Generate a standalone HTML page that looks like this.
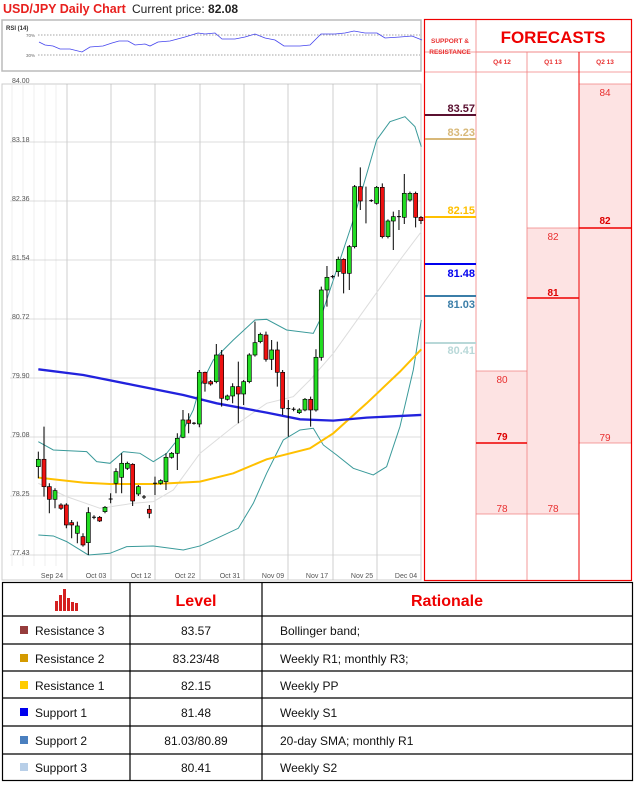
<!DOCTYPE html><html><head><meta charset="utf-8"><style>
body{margin:0;width:644px;height:789px;background:#fff;overflow:hidden;font-family:"Liberation Sans",sans-serif;position:relative}
</style></head><body>
<svg width="644" height="789" style="position:absolute;left:0;top:0" font-family="Liberation Sans, sans-serif">
<text x="3" y="13" font-size="12.5" font-weight="bold" fill="#e8201e">USD/JPY Daily Chart</text>
<text x="132" y="13" font-size="12" fill="#222">Current price: <tspan font-weight="bold">82.08</tspan></text>
<!-- RSI -->
<rect x="2" y="20" width="419" height="51" fill="#fff" stroke="#bbb" stroke-width="1.5"/>
<text x="6" y="30" font-size="6" font-weight="bold" fill="#333">RSI (14)</text>
<line x1="38" y1="35" x2="420" y2="35" stroke="#888" stroke-dasharray="1.5,1.5" stroke-width="0.7"/>
<line x1="38" y1="55" x2="420" y2="55" stroke="#888" stroke-dasharray="1.5,1.5" stroke-width="0.7"/>
<text x="26" y="37" font-size="4.5" fill="#666">70%</text><text x="26" y="57" font-size="4.5" fill="#666">30%</text>
<polyline fill="none" stroke="#4444ee" stroke-width="0.8" points="39,42 45,45 53,46 60,49 70,49 82,52 90,47 103,46 112,43 119,41 128,41 135,45 145,44 150,46 158,42 170,41 185,37 198,33 205,34 215,33 222,39 235,39 245,37 255,34 265,38 275,40 284,46 300,46 310,45 321,34 335,34 345,33 354,31 365,33 377,33 385,38 400,37 412,36 422,40"/>
<!-- main chart -->
<rect x="2" y="84" width="419" height="496" fill="#fff" stroke="#ccc"/>
<g stroke="#e4e4e4" stroke-width="0.6">
<line x1="12" y1="84" x2="12" y2="566"/><line x1="23" y1="84" x2="23" y2="566"/><line x1="34" y1="84" x2="34" y2="566"/><line x1="45" y1="84" x2="45" y2="566"/><line x1="56" y1="84" x2="56" y2="566"/>
</g>
<g stroke="#bbb" stroke-width="0.7">
<line x1="67" y1="84" x2="67" y2="580"/><line x1="111" y1="84" x2="111" y2="580"/><line x1="155" y1="84" x2="155" y2="580"/><line x1="200" y1="84" x2="200" y2="580"/><line x1="244" y1="84" x2="244" y2="580"/><line x1="288" y1="84" x2="288" y2="580"/><line x1="333" y1="84" x2="333" y2="580"/><line x1="377" y1="84" x2="377" y2="580"/>
</g>
<g stroke="#d0d0d0" stroke-width="0.7">
<line x1="10" y1="142" x2="421" y2="142"/><line x1="10" y1="201" x2="421" y2="201"/><line x1="10" y1="260" x2="421" y2="260"/><line x1="10" y1="319" x2="421" y2="319"/><line x1="10" y1="378" x2="421" y2="378"/><line x1="10" y1="437" x2="421" y2="437"/><line x1="10" y1="496" x2="421" y2="496"/><line x1="10" y1="555" x2="421" y2="555"/>
</g>
<g font-size="7" fill="#555">
<text x="12" y="83">84.00</text><text x="12" y="142">83.18</text><text x="12" y="201">82.36</text><text x="12" y="260">81.54</text><text x="12" y="319">80.72</text><text x="12" y="378">79.90</text><text x="12" y="437">79.08</text><text x="12" y="496">78.25</text><text x="12" y="555">77.43</text>
</g>
<g font-size="7" fill="#555" text-anchor="middle">
<text x="52" y="578">Sep 24</text><text x="96" y="578">Oct 03</text><text x="141" y="578">Oct 12</text><text x="185" y="578">Oct 22</text><text x="230" y="578">Oct 31</text><text x="273" y="578">Nov 09</text><text x="317" y="578">Nov 17</text><text x="362" y="578">Nov 25</text><text x="406" y="578">Dec 04</text>
</g>
<g transform="translate(0,120) scale(0.3333)" fill="none">
<polyline stroke="#ddd" stroke-width="3" points="115,1090 200,1130 300,1165 400,1150 460,1145 520,1110 600,1000 700,920 800,850 880,830 930,780 1000,700 1100,560 1200,420 1264,335"/>
<polyline stroke="#3a9a9a" stroke-width="3" points="115,965 160,990 260,995 290,1025 330,1030 370,995 420,1000 460,1025 500,1000 540,950 580,870 600,800 640,720 700,660 765,600 800,598 860,630 940,640 960,600 1000,480 1060,300 1130,60 1170,5 1215,-10 1245,20 1264,80"/>
<polyline stroke="#3a9a9a" stroke-width="3" points="115,1245 160,1248 200,1265 265,1305 330,1300 380,1280 460,1278 550,1290 600,1278 640,1260 715,1225 760,1150 800,1060 850,960 900,930 940,925 970,975 1010,1005 1060,1045 1120,1065 1160,1040 1200,920 1240,750 1264,600"/>
<polyline stroke="#ffc000" stroke-width="6" points="115,1073 250,1088 330,1092 466,1092 600,1085 700,1060 800,1018 930,985 1000,940 1100,850 1200,755 1264,688"/>
<polyline stroke="#2222dd" stroke-width="7" points="115,748 250,765 400,795 550,825 650,850 800,878 900,898 1000,902 1100,893 1264,885"/>
<g stroke="#000" stroke-width="3">
<path d="M115 995V1075M132 920V1130M148 1090V1180M165 1105V1165M183 1150V1170M199 1150V1225M215 1200V1255M232 1205V1270M249 1240V1280M265 1162V1305M282 1186V1198M299 1188V1206M315 1158V1180M332 1120V1150M348 1045V1120M365 1000V1120M382 1025V1050M398 1030V1158M415 1095V1128M432 1125V1137M448 1155V1195M465 1070V1125M482 1078V1094M498 1000V1110M515 996V1016M532 940V1050M549 870V955M566 880V940M582 906V914M598 750V922M615 755V815M632 780V797M649 672V790M665 690V860M682 824V842M698 790V850M715 725V910M731 780V855M748 700V790M765 605V710M781 638V670M798 635V725M815 660V750M832 665V800M848 750V885M865 840V950M881 862V874M898 865V882M915 834V874M932 830V920M948 688V875M964 500V722M981 438V560M998 465V475M1015 410V470M1031 415V520M1048 375V510M1064 195V385M1081 142V270M1098 200V310M1114 238V246M1130 198V254M1147 190V355M1164 298V355M1180 275V390M1197 270V330M1213 162V312M1230 215V245M1247 215V322M1263 288V312"/>
<path d="M276 1192H288M326 1137H338M426 1131H438M459 1090H471M576 910H588M859 866H871M875 868H887M992 470H1004M1108 242H1120M1191 290H1203"/>
</g>
<g stroke="#000" stroke-width="2">
<g fill="#22dd22">
<rect x="109" y="1018" width="12" height="22"/><rect x="159" y="1112" width="12" height="26"/><rect x="226" y="1218" width="12" height="22"/><rect x="259" y="1178" width="12" height="90"/><rect x="309" y="1162" width="12" height="13"/><rect x="342" y="1055" width="12" height="35"/><rect x="359" y="1030" width="12" height="42"/><rect x="376" y="1030" width="12" height="15"/><rect x="409" y="1100" width="12" height="22"/><rect x="476" y="1082" width="12" height="8"/><rect x="492" y="1012" width="12" height="73"/><rect x="509" y="1000" width="12" height="12"/><rect x="526" y="955" width="12" height="45"/><rect x="543" y="900" width="12" height="52"/><rect x="592" y="757" width="12" height="155"/><rect x="643" y="705" width="12" height="80"/><rect x="676" y="828" width="12" height="10"/><rect x="692" y="800" width="12" height="28"/><rect x="725" y="785" width="12" height="37"/><rect x="742" y="705" width="12" height="80"/><rect x="759" y="668" width="12" height="37"/><rect x="775" y="643" width="12" height="22"/><rect x="809" y="690" width="12" height="28"/><rect x="892" y="870" width="12" height="8"/><rect x="909" y="838" width="12" height="32"/><rect x="942" y="712" width="12" height="158"/><rect x="958" y="510" width="12" height="202"/><rect x="975" y="472" width="12" height="38"/><rect x="1009" y="418" width="12" height="37"/><rect x="1042" y="380" width="12" height="80"/><rect x="1058" y="200" width="12" height="180"/><rect x="1124" y="202" width="12" height="48"/><rect x="1158" y="303" width="12" height="47"/><rect x="1174" y="290" width="12" height="13"/><rect x="1207" y="220" width="12" height="72"/><rect x="1224" y="220" width="12" height="20"/>
</g>
<g fill="#ee1111">
<rect x="126" y="1018" width="12" height="82"/><rect x="142" y="1100" width="12" height="38"/><rect x="177" y="1155" width="12" height="10"/><rect x="193" y="1155" width="12" height="60"/><rect x="209" y="1208" width="12" height="7"/><rect x="243" y="1250" width="12" height="25"/><rect x="293" y="1192" width="12" height="11"/><rect x="392" y="1033" width="12" height="110"/><rect x="442" y="1168" width="12" height="12"/><rect x="560" y="900" width="12" height="10"/><rect x="609" y="757" width="12" height="33"/><rect x="626" y="785" width="12" height="7"/><rect x="659" y="705" width="12" height="130"/><rect x="709" y="800" width="12" height="22"/><rect x="792" y="645" width="12" height="73"/><rect x="826" y="690" width="12" height="67"/><rect x="842" y="757" width="12" height="108"/><rect x="926" y="838" width="12" height="32"/><rect x="1025" y="418" width="12" height="42"/><rect x="1075" y="200" width="12" height="43"/><rect x="1141" y="202" width="12" height="148"/><rect x="1241" y="220" width="12" height="72"/><rect x="1257" y="292" width="12" height="10"/>
</g>
</g>
</g>
<!-- right panel -->
<rect x="476" y="84" width="0" height="0"/>
<rect x="579" y="84" width="53" height="144" fill="#fde3e3"/>
<rect x="579" y="228" width="53" height="215" fill="#fde3e3"/>
<rect x="527" y="228" width="52" height="70" fill="#fde3e3"/>
<rect x="527" y="298" width="52" height="216" fill="#fde3e3"/>
<rect x="476" y="371" width="51" height="143" fill="#fde3e3"/>
<g stroke="#f08080" stroke-width="0.8" fill="none">
<line x1="424" y1="52" x2="632" y2="52"/><line x1="476" y1="52" x2="632" y2="52"/>
<line x1="424" y1="72" x2="632" y2="72"/>
<line x1="476" y1="19" x2="476" y2="580"/><line x1="527" y1="52" x2="527" y2="580"/><line x1="579" y1="84" x2="632" y2="84"/>
<line x1="476" y1="371" x2="527" y2="371"/><line x1="476" y1="514" x2="579" y2="514"/><line x1="579" y1="443" x2="632" y2="443"/><line x1="527" y1="228" x2="579" y2="228"/>
</g>
<line x1="579" y1="52" x2="579" y2="580" stroke="#e00" stroke-width="1"/>
<rect x="424.5" y="19.5" width="207" height="561" fill="none" stroke="#e00" stroke-width="1.2"/>
<g stroke="#e00" stroke-width="1.5"><line x1="579" y1="228" x2="632" y2="228"/><line x1="527" y1="298" x2="579" y2="298"/><line x1="476" y1="443" x2="527" y2="443"/></g>
<text x="450" y="43" font-size="6.5" font-weight="bold" fill="#e83030" text-anchor="middle">SUPPORT &amp;</text>
<text x="450" y="54" font-size="6.5" font-weight="bold" fill="#e83030" text-anchor="middle">RESISTANCE</text>
<text x="553" y="43" font-size="17" font-weight="bold" fill="#e00" text-anchor="middle">FORECASTS</text>
<g font-size="6.5" font-weight="bold" fill="#e83030" text-anchor="middle"><text x="502" y="64">Q4 12</text><text x="553" y="64">Q1 13</text><text x="605" y="64">Q2 13</text></g>
<g font-size="10" fill="#e83030" text-anchor="middle">
<text x="605" y="96">84</text><text x="553" y="240">82</text><text x="502" y="383">80</text><text x="502" y="512">78</text><text x="553" y="512">78</text><text x="605" y="441">79</text>
<text x="605" y="224" font-weight="bold" fill="#d00">82</text><text x="553" y="296" font-weight="bold" fill="#d00">81</text><text x="502" y="440" font-weight="bold" fill="#d00">79</text>
</g>
<g stroke-width="2"><line x1="425" y1="115" x2="476" y2="115" stroke="#5a1030"/><line x1="425" y1="139" x2="476" y2="139" stroke="#d8b878"/><line x1="425" y1="217" x2="476" y2="217" stroke="#ffc000"/><line x1="425" y1="264" x2="476" y2="264" stroke="#0000ee"/><line x1="425" y1="296" x2="476" y2="296" stroke="#3b7ea8"/><line x1="425" y1="343" x2="476" y2="343" stroke="#b8d8d8"/></g>
<g font-size="11" font-weight="bold" text-anchor="end">
<text x="475" y="112" fill="#5a1030">83.57</text><text x="475" y="136" fill="#d8b878">83.23</text><text x="475" y="214" fill="#ffc000">82.15</text><text x="475" y="277" fill="#0000ee">81.48</text><text x="475" y="308" fill="#3b7ea8">81.03</text><text x="475" y="354" fill="#b8d8d8">80.41</text>
</g>
<!-- table -->
<g stroke="#000" stroke-width="1.2" fill="none">
<rect x="2.5" y="582.5" width="630" height="198"/>
<line x1="130" y1="582" x2="130" y2="781"/><line x1="262" y1="582" x2="262" y2="781"/>
<line x1="2" y1="616" x2="633" y2="616"/><line x1="2" y1="644" x2="633" y2="644"/><line x1="2" y1="671" x2="633" y2="671"/><line x1="2" y1="698" x2="633" y2="698"/><line x1="2" y1="726" x2="633" y2="726"/><line x1="2" y1="754" x2="633" y2="754"/>
</g>
<g fill="#d42020"><rect x="55" y="601" width="3" height="10"/><rect x="59" y="595" width="3" height="16"/><rect x="63" y="589" width="3" height="22"/><rect x="67" y="598" width="3" height="13"/><rect x="71" y="602" width="3" height="9"/><rect x="75" y="603" width="3" height="8"/></g>
<text x="196" y="606" font-size="16" font-weight="bold" fill="#e00" text-anchor="middle">Level</text>
<text x="447" y="606" font-size="16" font-weight="bold" fill="#e00" text-anchor="middle">Rationale</text>
<rect x="20" y="626" width="8" height="8" fill="#963c3c"/><rect x="20" y="654" width="8" height="8" fill="#d49a00"/><rect x="20" y="681" width="8" height="8" fill="#ffcc00"/><rect x="20" y="708" width="8" height="8" fill="#0000ee"/><rect x="20" y="736" width="8" height="8" fill="#4a7fbf"/><rect x="20" y="763" width="8" height="8" fill="#b8cfe8"/>
<g font-size="12" fill="#111">
<text x="35" y="635">Resistance 3</text><text x="35" y="663">Resistance 2</text><text x="35" y="690">Resistance 1</text><text x="35" y="717">Support 1</text><text x="35" y="745">Support 2</text><text x="35" y="772">Support 3</text>
<g text-anchor="middle"><text x="196" y="635">83.57</text><text x="196" y="663">83.23/48</text><text x="196" y="690">82.15</text><text x="196" y="717">81.48</text><text x="196" y="745">81.03/80.89</text><text x="196" y="772">80.41</text></g>
<text x="280" y="635">Bollinger band;</text><text x="280" y="663">Weekly R1; monthly R3;</text><text x="280" y="690">Weekly PP</text><text x="280" y="717">Weekly S1</text><text x="280" y="745">20-day SMA; monthly R1</text><text x="280" y="772">Weekly S2</text>
</g>
</svg>
</body></html>
